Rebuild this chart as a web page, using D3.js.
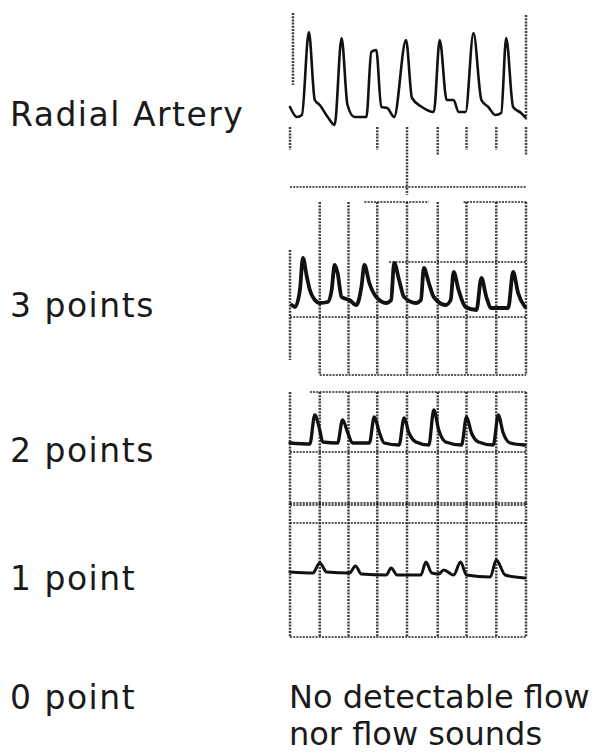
<!DOCTYPE html>
<html lang="en">
<head>
    <meta charset="UTF-8">
    <title>Doppler flow grading</title>
    <script src="https://d3js.org/d3.v7.min.js"></script>
    <style>
        body { margin: 0; background: #fff; }
        .label {
            font-family: "DejaVu Sans", sans-serif;
            font-size: 33px;
            letter-spacing: 1.5px;
            fill: #1a1a1a;
        }
        .note {
            font-family: "DejaVu Sans", sans-serif;
            font-size: 32px;
            fill: #1a1a1a;
        }
        .grid { stroke: #1e1e1e; fill: none; stroke-dasharray: 2,1.2; }
        .trace { fill: none; stroke: #111; stroke-linejoin: round; stroke-linecap: round; }
    </style>
</head>
<body>
<svg width="596" height="755"></svg>
<script>
    // traces: time (0-240) and amplitude above baseline
    const radialT = [0, 7, 12, 19, 25, 30, 38, 45, 52, 58, 65, 77, 82, 87, 92, 98, 105, 117, 123, 133, 145, 151, 158, 165, 170, 177, 185, 193, 200, 207, 213, 218, 225, 233, 237];
    const radialV = [18, 8, 10, 93, 25, 20, 8, 0, 87, 20, 8, 8, 73, 75, 18, 17, 8, 85, 27, 18, 13, 85, 25, 25, 13, 13, 92, 25, 18, 10, 12, 87, 18, 12, 8];

    const threeT = [2, 5, 10, 13, 17, 20, 25, 30, 38, 42, 45, 48, 52, 60, 67, 72, 75, 80, 87, 97, 102, 105, 110, 115, 127, 132, 135, 140, 145, 157, 162, 165, 170, 177, 188, 193, 198, 203, 220, 225, 230, 237];
    const threeV = [5, 3, 20, 52, 33, 20, 10, 7, 8, 20, 45, 37, 13, 10, 5, 23, 45, 27, 13, 7, 10, 47, 30, 13, 7, 10, 42, 27, 13, 5, 10, 38, 20, 3, 0, 32, 13, 2, 2, 38, 17, 3];

    const twoT = [0, 20, 25, 30, 33, 48, 53, 58, 63, 80, 85, 90, 95, 110, 115, 120, 127, 140, 145, 150, 157, 173, 178, 183, 190, 205, 210, 215, 222, 237];
    const twoV = [2, 1, 30, 15, 3, 2, 25, 13, 2, 2, 28, 13, 2, 0, 27, 12, 3, 0, 35, 15, 3, 0, 28, 12, 3, 0, 30, 12, 2, 0];

    const oneT = [0, 23, 30, 37, 60, 66, 72, 97, 102, 108, 132, 137, 143, 150, 155, 165, 172, 178, 202, 208, 217, 237];
    const oneV = [6, 5, 15, 6, 5, 12, 4, 3, 10, 3, 3, 16, 5, 4, 8, 3, 16, 3, 1, 18, 3, 0];

    const gridTimes = [0, 30, 59, 88, 118, 149, 178, 208, 238];

    const labels = ["Radial Artery", "3 points", "2 points", "1 point", "0 point"];
    const noFlowLines = ["No detectable flow", "nor flow sounds"];

    const svg = d3.select("svg");
    svg.append("rect").attr("width", 596).attr("height", 755).attr("fill", "#fff");

    const x = d3.scaleLinear().domain([0, 240]).range([290, 528]);

    // one block per panel: cols = [t, top, bottom], rows = [t0, t1, level]
    const panels = [
        { t: radialT, v: radialV, base: 125, w: 2.6, label: 126,
          cols: [[3, 112, 40], [238, 110, 5], [0, -2, -25], [88, -2, -25], [118, -2, -70], [149, -2, -30], [178, -2, -25], [208, -2, -25], [238, -2, -30]],
          rows: [[0, 238, -62]] },
        { t: threeT, v: threeV, base: 310, w: 3.8, label: 317,
          cols: [[0, 60, -50]].concat(gridTimes.slice(1).map(g => [g, 108, -65])),
          rows: [[75, 140, 108], [175, 238, 108], [100, 238, 48], [0, 238, -7], [30, 238, -65]] },
        { t: twoT, v: twoV, base: 445, w: 3.3, label: 462,
          cols: gridTimes.map(g => [g, 53, -60]),
          rows: [[20, 238, 53], [0, 238, -7], [0, 238, -60]] },
        { t: oneT, v: oneV, base: 578, w: 3.0, label: 590,
          cols: gridTimes.map(g => [g, 75, -59]),
          rows: [[0, 238, 75], [0, 238, 55], [0, 238, -59]] }
    ];

    panels.forEach((p, i) => {
        const y = d3.scaleLinear().domain([0, 100]).range([p.base, p.base - 100]);
        const g = svg.append("g");

        g.selectAll(".col").data(p.cols).join("line")
            .attr("class", "grid")
            .attr("x1", d => x(d[0])).attr("x2", d => x(d[0]))
            .attr("y1", d => y(d[1])).attr("y2", d => y(d[2]))
            .attr("stroke-width", 2.5).attr("opacity", 0.85);

        g.selectAll(".row").data(p.rows).join("line")
            .attr("class", "grid")
            .attr("x1", d => x(d[0])).attr("x2", d => x(d[1]))
            .attr("y1", d => y(d[2])).attr("y2", d => y(d[2]))
            .attr("stroke-width", 2.2).attr("opacity", 0.75);

        const pts = p.t.map((t, k) => [t, p.v[k]]);
        g.append("path")
            .attr("class", "trace")
            .attr("stroke-width", p.w)
            .attr("d", d3.line().x(d => x(d[0])).y(d => y(d[1])).curve(d3.curveMonotoneX)(pts));

        svg.append("text").attr("class", "label")
            .attr("x", 10).attr("y", p.label)
            .text(labels[i]);
    });

    svg.append("text").attr("class", "label").attr("x", 10).attr("y", 709).text(labels[4]);
    svg.selectAll(".nf").data(noFlowLines).join("text")
        .attr("class", "note")
        .attr("x", 289)
        .attr("y", (d, i) => 708 + i * 37)
        .text(d => d);
</script>
</body>
</html>
